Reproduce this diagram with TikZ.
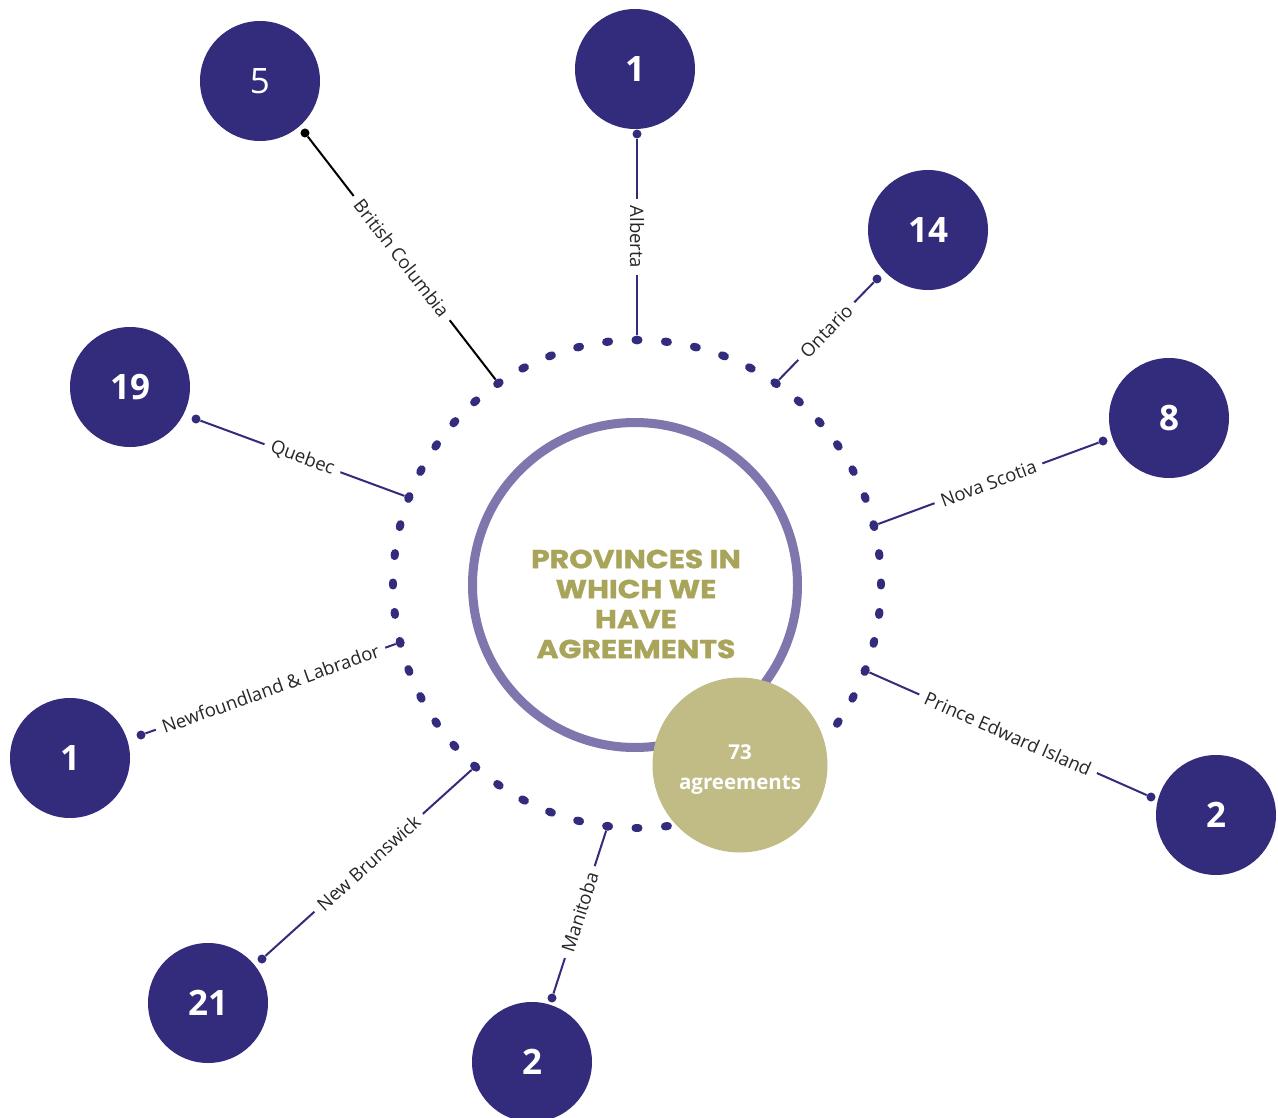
\documentclass[tikz,border=0pt]{standalone}
\usepackage{fontspec}
\setmainfont{Open Sans}
\newfontfamily\titlefont{Poppins}[FakeStretch=1.15, FakeBold=1.2]
\usetikzlibrary{calc}
\definecolor{navy}{HTML}{332B7C}
\definecolor{ringpurple}{HTML}{7F76AE}
\definecolor{gold}{HTML}{C1BC86}
\definecolor{olive}{HTML}{A8A55A}
\definecolor{labelgray}{HTML}{262626}
\begin{document}
\begin{tikzpicture}[x=1pt,y=-1pt,
  numc/.style={circle, fill=navy, minimum size=120pt, inner sep=0pt, text=white,
    font=\fontsize{35}{40}\selectfont\bfseries},
  enddot/.style={circle, fill=navy, minimum size=9pt, inner sep=0pt},
  conn/.style={navy, line width=2pt},
  lbl/.style={midway, sloped, fill=white, text=labelgray,
    font=\fontsize{18.5}{20}\selectfont, inner xsep=7pt, inner ysep=1pt},
  ringdot/.style={navy, line width=8pt, line cap=round}]
\fill[white] (0,0) rectangle (1278,1118);
\useasboundingbox (0,0) rectangle (1278,1118);
\coordinate (O) at (637,584);
% dotted ring
\foreach \k in {0,...,51} {
  \pgfmathsetmacro\s{-90+\k*6.923077-0.35}
  \pgfmathsetmacro\e{-90+\k*6.923077+0.35}
  \draw[ringdot] ([shift={(\s:244)}]O) -- ([shift={(\e:244)}]O);
}
% ring-side end dots
\node[enddot] (abR) at ([shift={(-90:244)}]O) {};
\node[enddot] (onR) at ([shift={(-55.38:244)}]O) {};
\node[enddot] (nsR) at ([shift={(-13.85:244)}]O) {};
\node[enddot] (peR) at ([shift={(20.77:244)}]O) {};
\node[enddot] (mbR) at ([shift={(96.92:244)}]O) {};
\node[enddot] (nbR) at ([shift={(131.54:244)}]O) {};
\node[enddot] (nlR) at ([shift={(166.15:244)}]O) {};
\node[enddot] (quR) at ([shift={(200.77:244)}]O) {};
\node[enddot] (bcR) at ([shift={(235.38:244)}]O) {};
% outer end dots
\node[enddot, fill=black] (bcA) at (305,133) {};
\node[enddot] (abA) at (637,134) {};
\node[enddot] (onA) at (877,279) {};
\node[enddot] (quA) at (196,419) {};
\node[enddot] (nsA) at (1103,441) {};
\node[enddot] (nlA) at (141,735) {};
\node[enddot] (peA) at (1151,797) {};
\node[enddot] (nbA) at (262,959) {};
\node[enddot] (mbA) at (552,998) {};
% connectors
\draw[conn, black] (bcA) -- (bcR) node[lbl] {British Columbia};
\draw[conn] (abA) -- (abR) node[lbl] {Alberta};
\draw[conn] (onR) -- (onA) node[lbl] {Ontario};
\draw[conn] (quA) -- (quR) node[lbl] {Quebec};
\draw[conn] (nsR) -- (nsA) node[lbl] {Nova Scotia};
\draw[conn] (nlA) -- (nlR) node[lbl] {Newfoundland \& Labrador};
\draw[conn] (peR) -- (peA) node[lbl] {Prince Edward Island};
\draw[conn] (nbA) -- (nbR) node[lbl] {New Brunswick};
\draw[conn] (mbA) -- (mbR) node[lbl] {Manitoba};
% number circles
\node[numc, font=\fontsize{35}{40}\selectfont\mdseries] (n5) at (260,81) {5};
\node[numc] (n1a) at (635,69) {1};
\node[numc] (n14) at (928,230) {14};
\node[numc] (n19) at (130,387) {19};
\node[numc] (n8) at (1169,418) {8};
\node[numc] (n1b) at (70,758) {1};
\node[numc] (n2a) at (1216,815) {2};
\node[numc] (n21) at (208,1003) {21};
\node[numc] (n2b) at (532,1062) {2};
% centre
\node[circle, draw=ringpurple, line width=9pt, minimum size=325pt, inner sep=0pt] (inner) at (635,585) {};
\node[align=center, text=olive, font=\titlefont\bfseries\fontsize{26}{30}\selectfont] (title) at (636,604)
  {PROVINCES IN\\WHICH WE\\HAVE\\AGREEMENTS};
\node[circle, fill=gold, minimum size=175pt, inner sep=0pt] (total) at (740,765) {};
\node[align=center, text=white, font=\bfseries\fontsize{20.5}{30}\selectfont] (totaltext) at (740,770) {73\\agreements};
\end{tikzpicture}
\end{document}
